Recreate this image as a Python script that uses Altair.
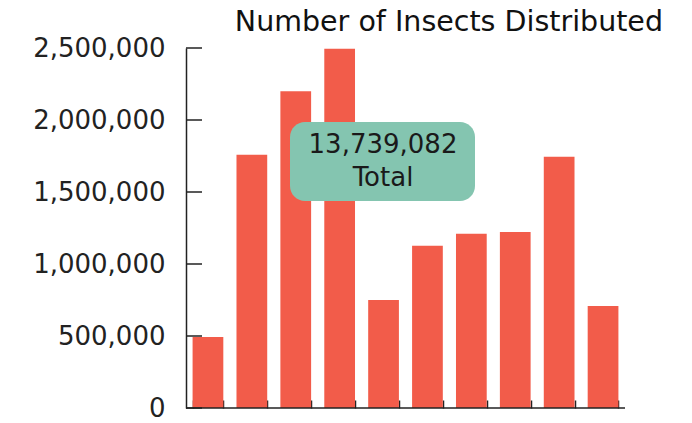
import altair as alt
import pandas as pd

# ---- data ----
categories = ["Group 1", "Group 2", "Group 3", "Group 4", "Group 5",
              "Group 6", "Group 7", "Group 8", "Group 9", "Group 10"]
insects = [493000, 1759000, 2199000, 2495000, 750000,
           1127000, 1210000, 1222000, 1745000, 708000]
y_ticks = [0, 500000, 1000000, 1500000, 2000000, 2500000]
total_label = "13,739,082"
total_caption = "Total"
chart_title = "Number of Insects Distributed"

df = pd.DataFrame({"category": categories, "insects": insects})
ticks_df = pd.DataFrame({"v": y_ticks})
note_df = pd.DataFrame({"t": [total_label]})

W, H = 439, 360
FONT = "DejaVu Sans"
INK = "#222222"

y_scale = alt.Scale(domain=[0, 2500000], nice=False)
y_axis = alt.Axis(title=None, values=y_ticks, labelExpr="format(datum.value, ',')",
                  ticks=False, labelPadding=21, labelFont=FONT, labelFontSize=26,
                  labelColor=INK, domainColor=INK, domainWidth=1.5,
                  grid=False)

bars = alt.Chart(df).mark_bar(color="#F25C4A").encode(
    x=alt.X("category:N", sort=categories,
            scale=alt.Scale(paddingInner=0.3, paddingOuter=0.15),
            axis=alt.Axis(title=None, labels=False, domain=False, ticks=True,
                          tickBand="extent", tickSize=8, offset=-8,
                          tickColor=INK, tickWidth=1.5, grid=False)),
    y=alt.Y("insects:Q", scale=y_scale, axis=y_axis),
)

yticks = alt.Chart(ticks_df).mark_rule(color=INK, strokeWidth=1.5).encode(
    y=alt.Y("v:Q", scale=y_scale, axis=y_axis),
    x=alt.value(0), x2=alt.value(16),
)

xdomain = alt.Chart(ticks_df).transform_filter("datum.v == 0").mark_rule(
    color=INK, strokeWidth=1.5).encode(
    y=alt.Y("v:Q", scale=y_scale, axis=y_axis),
    x=alt.value(0), x2=alt.value(W),
)

box = alt.Chart(note_df).mark_rect(color="#84C5B0", cornerRadius=15).encode(
    x=alt.value(104), x2=alt.value(289), y=alt.value(74), y2=alt.value(153))

txt1 = alt.Chart(note_df).mark_text(font=FONT, fontSize=26, color="#1a1a1a",
                                    baseline="middle", align="center").encode(
    x=alt.value(197), y=alt.value(97), text=alt.value(total_label))
txt2 = alt.Chart(note_df).mark_text(font=FONT, fontSize=26, color="#1a1a1a",
                                    baseline="middle", align="center").encode(
    x=alt.value(197), y=alt.value(130), text=alt.value(total_caption))

title_txt = alt.Chart(note_df).mark_text(font=FONT, fontSize=28.5, color="#111111",
                                         baseline="alphabetic", align="right").encode(
    x=alt.value(W + 38), y=alt.value(-17), text=alt.value(chart_title))

chart = alt.layer(bars, yticks, xdomain, box, txt1, txt2, title_txt).properties(
    width=W, height=H,
    autosize=alt.AutoSizeParams(type="none"),
    padding={"left": 178, "top": 40, "right": 58, "bottom": 20},
).configure(background="white").configure_view(stroke=None)

chart.save("out.html", embed_options={"renderer": "svg", "actions": False})
